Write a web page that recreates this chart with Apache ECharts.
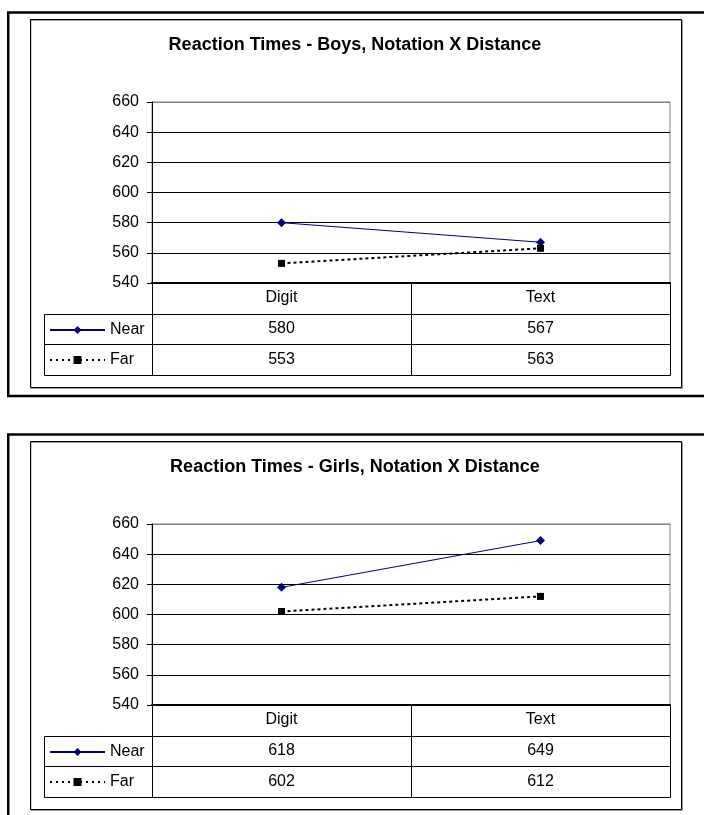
<!DOCTYPE html>
<html><head><meta charset="utf-8">
<script src="https://cdn.jsdelivr.net/npm/echarts@6/dist/echarts.min.js"></script>
<style>html,body{margin:0;padding:0;background:#fff}#c{width:704px;height:815px}</style>
</head><body><div id="c"></div>
<script>
// ---- data ----
const categories = ['Digit', 'Text'];
const seriesNames = ['Near', 'Far'];
const titles = ['Reaction Times - Boys, Notation X Distance', 'Reaction Times - Girls, Notation X Distance'];
const boysNear = [580, 567];
const boysFar = [553, 563];
const girlsNear = [618, 649];
const girlsFar = [602, 612];
const yMin = 540, yMax = 660, yStep = 20;

// ---- layout / style ----
const FONT = '"Liberation Sans", Arial, sans-serif';
const FS = 16;
const PERIOD = 422;
const KEY_COL_W = 108;

const panels = [
  { title: titles[0], values: [boysNear, boysFar] },
  { title: titles[1], values: [girlsNear, girlsFar] }
];

const option = {
  animation: false,
  backgroundColor: '#fff',
  title: [], grid: [], xAxis: [], yAxis: [], series: [], legend: [], graphic: []
};

panels.forEach((p, i) => {
  const oy = i * PERIOD;
  option.title.push({
    text: p.title, left: 355, top: 36 + oy, textAlign: 'center', padding: 0,
    textStyle: { fontSize: 18, fontWeight: 'bold', fontFamily: FONT, color: '#000' }
  });
  option.grid.push({ left: 152, top: 102 + oy, width: 518, height: 181, show: true, borderColor: '#808080', borderWidth: 1, backgroundColor: 'transparent' });
  option.grid.push({ left: 152, top: 283 + oy, width: 518, height: 91.5 });
  const gMain = 2 * i, gTab = 2 * i + 1;
  option.xAxis.push({
    type: 'category', data: categories, gridIndex: gMain,
    axisLine: { show: true, lineStyle: { color: '#000', width: 2 } },
    axisTick: { show: false },
    axisLabel: { color: '#000', fontSize: FS, fontFamily: FONT, margin: 7 },
    splitLine: { show: false }
  });
  option.yAxis.push({
    type: 'value', gridIndex: gMain, min: yMin, max: yMax, interval: yStep,
    axisLine: { show: true, lineStyle: { color: '#000', width: 1 } },
    axisTick: { show: true, length: 5, lineStyle: { color: '#000' } },
    axisLabel: { color: '#000', fontSize: FS, fontFamily: FONT, margin: 13 },
    splitLine: { show: true, lineStyle: { color: ['#000', '#000', '#000', '#000', '#000', '#000', '#808080'], width: 1 } }
  });
  option.xAxis.push({ type: 'category', data: categories, gridIndex: gTab, show: false });
  option.yAxis.push({ type: 'category', data: [''].concat(seriesNames), gridIndex: gTab, inverse: true, show: false });

  const axBase = 2 * i;
  option.series.push({
    name: seriesNames[0], type: 'line', xAxisIndex: axBase, yAxisIndex: axBase,
    data: p.values[0], symbol: 'diamond', symbolSize: 9, color: '#000080',
    itemStyle: { color: '#000080' }, lineStyle: { color: '#000080', width: 1 }, z: 5
  });
  option.series.push({
    name: seriesNames[1], type: 'line', xAxisIndex: axBase, yAxisIndex: axBase,
    data: p.values[1], symbol: 'rect', symbolSize: 7, color: '#000',
    itemStyle: { color: '#000' }, lineStyle: { color: '#000', width: 2, type: [3, 3] }, z: 5
  });

  const cells = [];
  categories.forEach((c, ci) => cells.push({ c: ci, r: 0, text: '', kind: 'cell' }));
  seriesNames.forEach((s, si) => {
    cells.push({ c: 0, r: si + 1, text: '', kind: 'key' });
    categories.forEach((c, ci) => cells.push({ c: ci, r: si + 1, text: String(p.values[si][ci]), kind: 'cell' }));
  });
  option.series.push({
    type: 'custom', xAxisIndex: axBase + 1, yAxisIndex: axBase + 1, silent: true, clip: false, z: 6,
    data: cells.map(d => [d.c, d.r]),
    renderItem: function (params, api) {
      const d = cells[params.dataIndex];
      const cs = params.coordSys;
      const ctr = api.coord([api.value(0), api.value(1)]);
      const sz = api.size([1, 1]);
      const w = Math.abs(sz[0]), h = Math.abs(sz[1]);
      let x0 = ctr[0] - w / 2, x1 = ctr[0] + w / 2;
      if (d.kind === 'key') { x1 = cs.x; x0 = cs.x - KEY_COL_W; }
      const y0 = ctr[1] - h / 2, y1 = ctr[1] + h / 2;
      const rx0 = Math.round(x0) + 0.5, rx1 = Math.round(x1) + 0.5;
      const ry0 = Math.round(y0) + 0.5, ry1 = Math.round(y1) + 0.5;
      return {
        type: 'group', children: [
          { type: 'rect', shape: { x: rx0, y: ry0, width: rx1 - rx0, height: ry1 - ry0 }, style: { fill: null, stroke: '#000', lineWidth: 1 } },
          { type: 'text', style: { text: d.text, x: (x0 + x1) / 2, y: ctr[1], align: 'center', verticalAlign: 'middle', fontSize: FS, fontFamily: FONT, fill: '#000' } }
        ]
      };
    }
  });

  option.legend.push({
    data: [
      { name: seriesNames[0] },
      { name: seriesNames[1], lineStyle: { type: [2, 4], width: 2 } }
    ],
    orient: 'vertical', left: 49, top: 320 + oy, padding: 0,
    itemWidth: 55, itemHeight: 10, itemGap: 10, selectedMode: false,
    textStyle: { fontSize: FS, fontFamily: FONT, color: '#000', lineHeight: 20 }
  });

  option.graphic.push({
    type: 'rect', silent: true, z: 0,
    shape: { x: 8.25, y: 12.5 + oy, width: 720, height: 383.5 },
    style: { fill: null, stroke: '#000', lineWidth: 2.5 }
  });
  option.graphic.push({
    type: 'rect', silent: true, z: 0,
    shape: { x: 31, y: 20.5 + oy, width: 651.5, height: 368 },
    style: { fill: null, stroke: '#9a9a9a', lineWidth: 1 }
  });
  option.graphic.push({
    type: 'rect', silent: true, z: 0,
    shape: { x: 30.5, y: 19.5 + oy, width: 651, height: 368 },
    style: { fill: null, stroke: '#000', lineWidth: 1 }
  });
});

const chart = echarts.init(document.getElementById('c'), null, { renderer: 'canvas' });
chart.setOption(option);
</script>
</body></html>
